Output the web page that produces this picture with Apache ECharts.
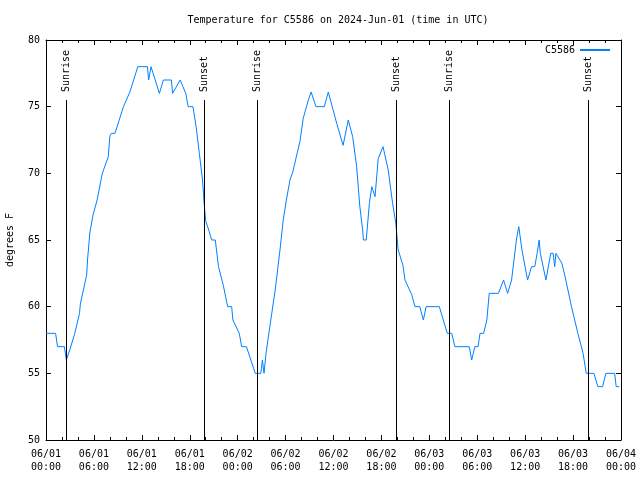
<!DOCTYPE html>
<html>
<head>
<meta charset="utf-8">
<script src="https://cdn.jsdelivr.net/npm/echarts@6/dist/echarts.min.js"></script>
<style>html,body{margin:0;padding:0;background:#fff}#c{width:640px;height:480px}</style>
</head>
<body>
<div id="c"></div>
<script>
// hours since 2024-06-01 00:00 UTC
var hours = [0,1.2,1.45,2.3,2.55,2.7,3.0,3.6,4.2,4.3,5.1,5.2,5.5,5.9,6.4,7.05,7.8,8.0,8.2,8.64,9.7,10.5,11.5,12.7,12.85,13.15,14.2,14.7,15.7,15.85,16.8,17.5,17.8,18.4,18.8,19.2,19.6,19.8,20.0,20.3,20.75,21.2,21.6,22.2,22.75,23.25,23.4,24.2,24.5,25.1,26.2,26.9,27.1,27.3,27.55,28.05,28.7,29.3,29.7,30.1,30.55,30.9,31.8,32.2,32.85,33.2,33.8,34.85,35.35,36.4,37.2,37.85,38.4,38.9,39.3,39.65,39.75,40.1,40.5,40.8,41.2,41.6,42.2,42.85,43.4,43.8,44.1,44.7,44.95,45.2,45.8,46.2,46.8,47.25,47.6,49.25,49.75,50.25,50.8,51.2,53.0,53.3,53.7,54.1,54.35,54.8,55.2,55.5,56.65,57.3,57.8,58.3,58.9,59.2,59.6,60.3,60.8,61.2,61.5,61.75,61.9,62.6,63.2,63.5,63.7,63.85,64.6,65.0,65.8,66.6,67.25,67.65,68.6,69.1,69.7,70.1,71.2,71.4,71.8];
var temps = [58,58,57,57,56,56,56.8,58,59.5,60.2,62.4,63.5,65.6,66.9,68,70,71.25,72.8,73,73,75,76.1,78,78,77,78,76,77,77,76,77,76,75,75,73.5,71.5,69.5,67.75,66.4,65.9,65,65,63,61.6,60,60,59,58,57,57,55,55,56,55,56.5,58.6,61.25,64.25,66.5,68,69.5,70.1,72.4,74.1,75.5,76.1,75,75,76.1,73.75,72.1,74,72.75,70.5,67.5,65.75,65,65,67.8,69,68.25,71.1,72,70.25,67.75,66.25,64.25,63.1,62,62,60.9,60,60,59,60,60,59,58,58,57,57,56,57,57,58,58,59,61,61,62,61,62,65,66,64.25,62,63,63,64,65,64,62,64,64,63,64,63.25,62.25,60,58,56.5,55,55,54,54,55,55,54,54];
var sunEvents = ['Sunrise','Sunset','Sunrise','Sunset','Sunrise','Sunset'];
var sunHours = [2.54,19.82,26.46,43.86,50.55,67.9];
var xTickLabels = ['06/01\n00:00','06/01\n06:00','06/01\n12:00','06/01\n18:00','06/02\n00:00','06/02\n06:00','06/02\n12:00','06/02\n18:00','06/03\n00:00','06/03\n06:00','06/03\n12:00','06/03\n18:00','06/04\n00:00'];
var yTicks = [50,55,60,65,70,75,80];

var FONT = 'DejaVu Sans Mono';
var data = hours.map(function(h,i){return [h,temps[i]];});
var markData = sunHours.map(function(h,i){
  return [{coord:[h,50]},{coord:[h,75.5],name:sunEvents[i]}];
});

var chart = echarts.init(document.getElementById('c'), null, {renderer:'canvas'});
chart.setOption({
  animation:false,
  backgroundColor:'#fff',
  title:{text:'Temperature for C5586 on 2024-Jun-01 (time in UTC)',left:333,top:10,textAlign:'center',
    textStyle:{fontFamily:FONT,fontSize:10,fontWeight:'normal',color:'#000'}},
  legend:{right:25,top:40,itemWidth:30,itemHeight:2,itemGap:5,align:'right',icon:'rect',
    textStyle:{fontFamily:FONT,fontSize:10,color:'#000'},data:['C5586']},
  grid:{left:46,right:19,top:40,bottom:40,containLabel:false,outerBoundsMode:'none'},
  xAxis:[{
    type:'value',min:0,max:72,interval:6,
    axisLine:{show:true,onZero:false,lineStyle:{color:'#000',width:1}},
    axisTick:{show:true,inside:true,length:5,lineStyle:{color:'#000'}},
    minorTick:{show:true,splitNumber:3,length:3,lineStyle:{color:'#000'}},
    splitLine:{show:false},
    axisLabel:{fontFamily:FONT,fontSize:10,color:'#000',margin:8,lineHeight:13,
      formatter:function(v){return xTickLabels[Math.round(v/6)];}}
  },{
    type:'value',min:0,max:72,interval:6,position:'top',
    axisLine:{show:true,onZero:false,lineStyle:{color:'#000',width:1}},
    axisTick:{show:true,inside:true,length:5,lineStyle:{color:'#000'}},
    minorTick:{show:true,splitNumber:3,length:3,lineStyle:{color:'#000'}},
    splitLine:{show:false},axisLabel:{show:false}
  }],
  yAxis:[{
    type:'value',min:50,max:80,interval:5,
    name:'degrees F',nameLocation:'middle',nameGap:31,nameRotate:90,
    nameTextStyle:{fontFamily:FONT,fontSize:10,color:'#000'},
    axisLine:{show:true,onZero:false,lineStyle:{color:'#000',width:1}},
    axisTick:{show:true,inside:true,length:5,lineStyle:{color:'#000'}},
    splitLine:{show:false},
    axisLabel:{fontFamily:FONT,fontSize:10,color:'#000',margin:6,
      formatter:function(v){return yTicks.indexOf(v)>=0?String(v):'';}}
  },{
    type:'value',min:50,max:80,interval:5,position:'right',
    axisLine:{show:true,onZero:false,lineStyle:{color:'#000',width:1}},
    axisTick:{show:true,inside:true,length:5,lineStyle:{color:'#000'}},
    splitLine:{show:false},axisLabel:{show:false}
  }],
  series:[{
    name:'C5586',type:'line',data:data,showSymbol:false,symbol:'none',
    lineStyle:{color:'#0080ff',width:1},itemStyle:{color:'#0080ff'},
    z:3,
    markLine:{
      silent:true,symbol:['none','none'],animation:false,
      lineStyle:{color:'#000',width:1,type:'solid'},
      label:{show:true,position:'end',rotate:90,align:'left',verticalAlign:'middle',formatter:'{b}',distance:8,
        fontFamily:FONT,fontSize:10,color:'#000'},
      emphasis:{disabled:true},
      data:markData
    }
  }]
});
</script>
</body>
</html>
